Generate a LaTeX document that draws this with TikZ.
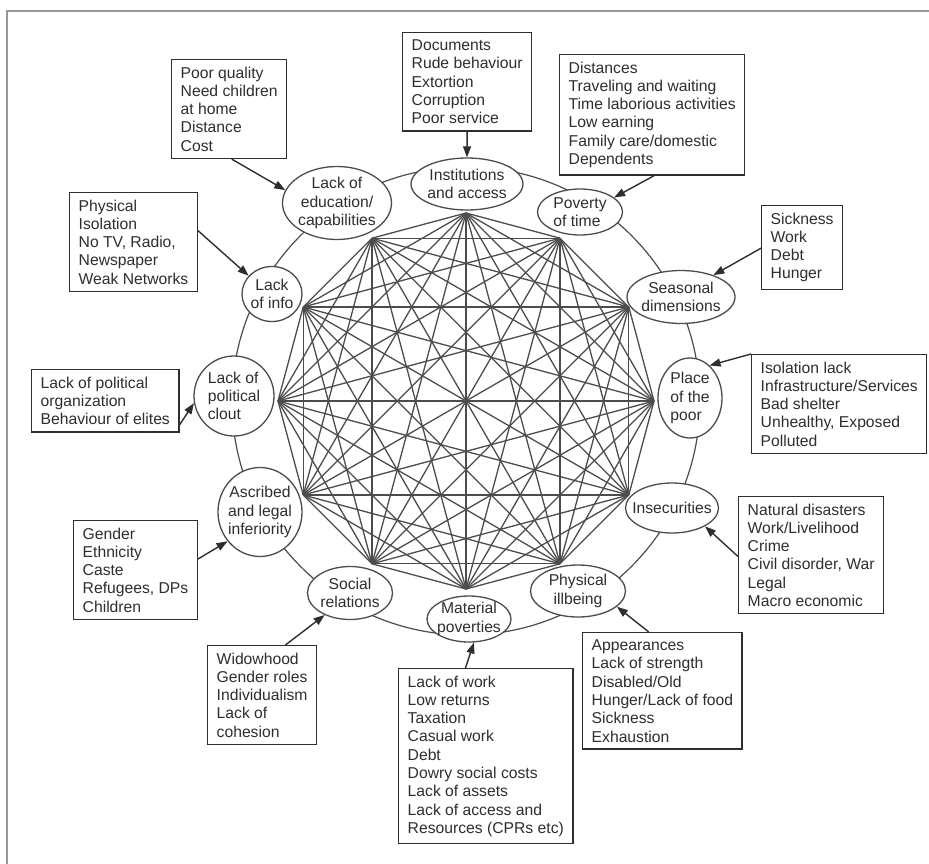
\documentclass[tikz,border=0pt]{standalone}
\usepackage{fontspec}
\setmainfont{Liberation Sans}
\usepackage{tikz}
\usetikzlibrary{shapes.geometric, arrows.meta}
\definecolor{LineGray}{rgb}{0.3,0.3,0.3}
\definecolor{TextGray}{rgb}{0.18,0.18,0.18}
\definecolor{FrameGray}{rgb}{0.6,0.6,0.6}

\begin{document}
\begin{tikzpicture}[x=1pt, y=-1pt,
		>={Triangle[length=11pt, width=8pt]},
		every node/.style={font=\fontsize{15.7}{18.3}\selectfont, text=TextGray},
		oval/.style={ellipse, draw=LineGray, fill=white, line width=1.3pt, inner sep=0pt},
		otext/.style={align=center, inner sep=0pt},
		cause/.style={draw=TextGray, fill=white, line width=1.4pt, align=left,
			anchor=north west, inner xsep=9pt, inner ysep=7pt},
		arr/.style={->, draw=TextGray, line width=1.4pt}]

		\useasboundingbox (0,0) rectangle (929,864);

		% frame
		\draw[FrameGray, line width=1.8pt] (7,864) -- (7,11) -- (929,11);

		% outer ring
		\draw[LineGray, line width=1.2pt] (466,401) circle[radius=234pt];

		% hubs on the 12-gon
		\foreach \a in {0,...,11}
			\coordinate (h\a) at ([shift={(466,401)}]\a*30:188);

		% every hub joined to every other
		\foreach \a in {0,...,10} {
			\pgfmathtruncatemacro\nxt{\a+1}
			\foreach \b in {\nxt,...,11}
				\draw[LineGray, line width=1.3pt] (h\a) -- (h\b);
		}

		% dimensions
		\node[oval, minimum width=112pt, minimum height=52pt] (inst) at (467,184) {};
		\node[otext] at (inst) {Institutions\\and access};
		\node[oval, minimum width=109pt, minimum height=73pt] (edu) at (337,203) {};
		\node[otext] at (edu) {Lack of\\education/\\capabilities};
		\node[oval, minimum width=85pt, minimum height=46pt] (time) at (580,212) {};
		\node[otext, align=left] at (time) {Poverty\\of time};
		\node[oval, minimum width=60pt, minimum height=55pt] (info) at (272,294) {};
		\node[otext] at (info) {Lack\\of info};
		\node[oval, minimum width=108pt, minimum height=53pt] (seas) at (681,297) {};
		\node[otext] at (seas) {Seasonal\\dimensions};
		\node[oval, minimum width=80pt, minimum height=80pt] (pol) at (234,396) {};
		\node[otext, align=left] at (pol) {Lack of\\political\\clout};
		\node[oval, minimum width=64pt, minimum height=80pt] (place) at (690,398) {};
		\node[otext, align=left] at (place) {Place\\of the\\poor};
		\node[oval, minimum width=84pt, minimum height=89pt] (asc) at (260,512) {};
		\node[otext] at (asc) {Ascribed\\and legal\\inferiority};
		\node[oval, minimum width=93pt, minimum height=50pt] (insec) at (672,508) {};
		\node[otext] at (insec) {Insecurities};
		\node[oval, minimum width=85pt, minimum height=53pt] (soc) at (350,593) {};
		\node[otext] at (soc) {Social\\relations};
		\node[oval, minimum width=95pt, minimum height=52pt] (phys) at (578,591) {};
		\node[otext] at (phys) {Physical\\illbeing};
		\node[oval, minimum width=84pt, minimum height=46pt] (mat) at (469,619) {};
		\node[otext] at (mat) {Material\\poverties};

		% causes
		\node[cause] (bdoc) at (402,32) {Documents\\Rude behaviour\\Extortion\\Corruption\\Poor service};
		\node[cause] (bedu) at (171,59) {Poor quality\\Need children\\at home\\Distance\\Cost};
		\node[cause] (btime) at (559,54) {Distances\\Traveling and waiting\\Time laborious activities\\Low earning\\Family care/domestic\\Dependents};
		\node[cause] (binfo) at (69,192) {Physical\\Isolation\\No TV, Radio,\\Newspaper\\Weak Networks};
		\node[cause] (bseas) at (761,205) {Sickness\\Work\\Debt\\Hunger};
		\node[cause] (bpol) at (31,369) {Lack of political\\organization\\Behaviour of elites};
		\node[cause] (bplace) at (751,354) {Isolation lack\\Infrastructure/Services\\Bad shelter\\Unhealthy, Exposed\\Polluted};
		\node[cause] (basc) at (73,520) {Gender\\Ethnicity\\Caste\\Refugees, DPs\\Children};
		\node[cause] (binsec) at (738,496) {Natural disasters\\Work/Livelihood\\Crime\\Civil disorder, War\\Legal\\Macro economic};
		\node[cause] (bsoc) at (207,645) {Widowhood\\Gender roles\\Individualism\\Lack of\\cohesion};
		\node[cause] (bphys) at (582,632) {Appearances\\Lack of strength\\Disabled/Old\\Hunger/Lack of food\\Sickness\\Exhaustion};
		\node[cause] (bmat) at (398,668) {Lack of work\\Low returns\\Taxation\\Casual work\\Debt\\Dowry social costs\\Lack of assets\\Lack of access and\\Resources (CPRs etc)};

		% arrows
		\draw[arr] (bdoc.south) -- (inst.north);
		\draw[arr] (bedu.273) -- (edu.166);
		\draw[arr] (btime.272) -- (time.23);
		\draw[arr] (binfo.10) -- (info.142);
		\draw[arr] (bseas.181) -- (seas.34);
		\draw[arr] (bpol.342) -- (pol.190);
		\draw[arr] (bplace.north west) -- (place.59);
		\draw[arr] (basc.10) -- (asc.222);
		\draw[arr] (binsec.181) -- (insec.331);
		\draw[arr] (bsoc.65) -- (soc.221);
		\draw[arr] (bmat.103) -- (mat.282);
		\draw[arr] (bphys.103) -- (phys.338);

	\end{tikzpicture}
\end{document}
